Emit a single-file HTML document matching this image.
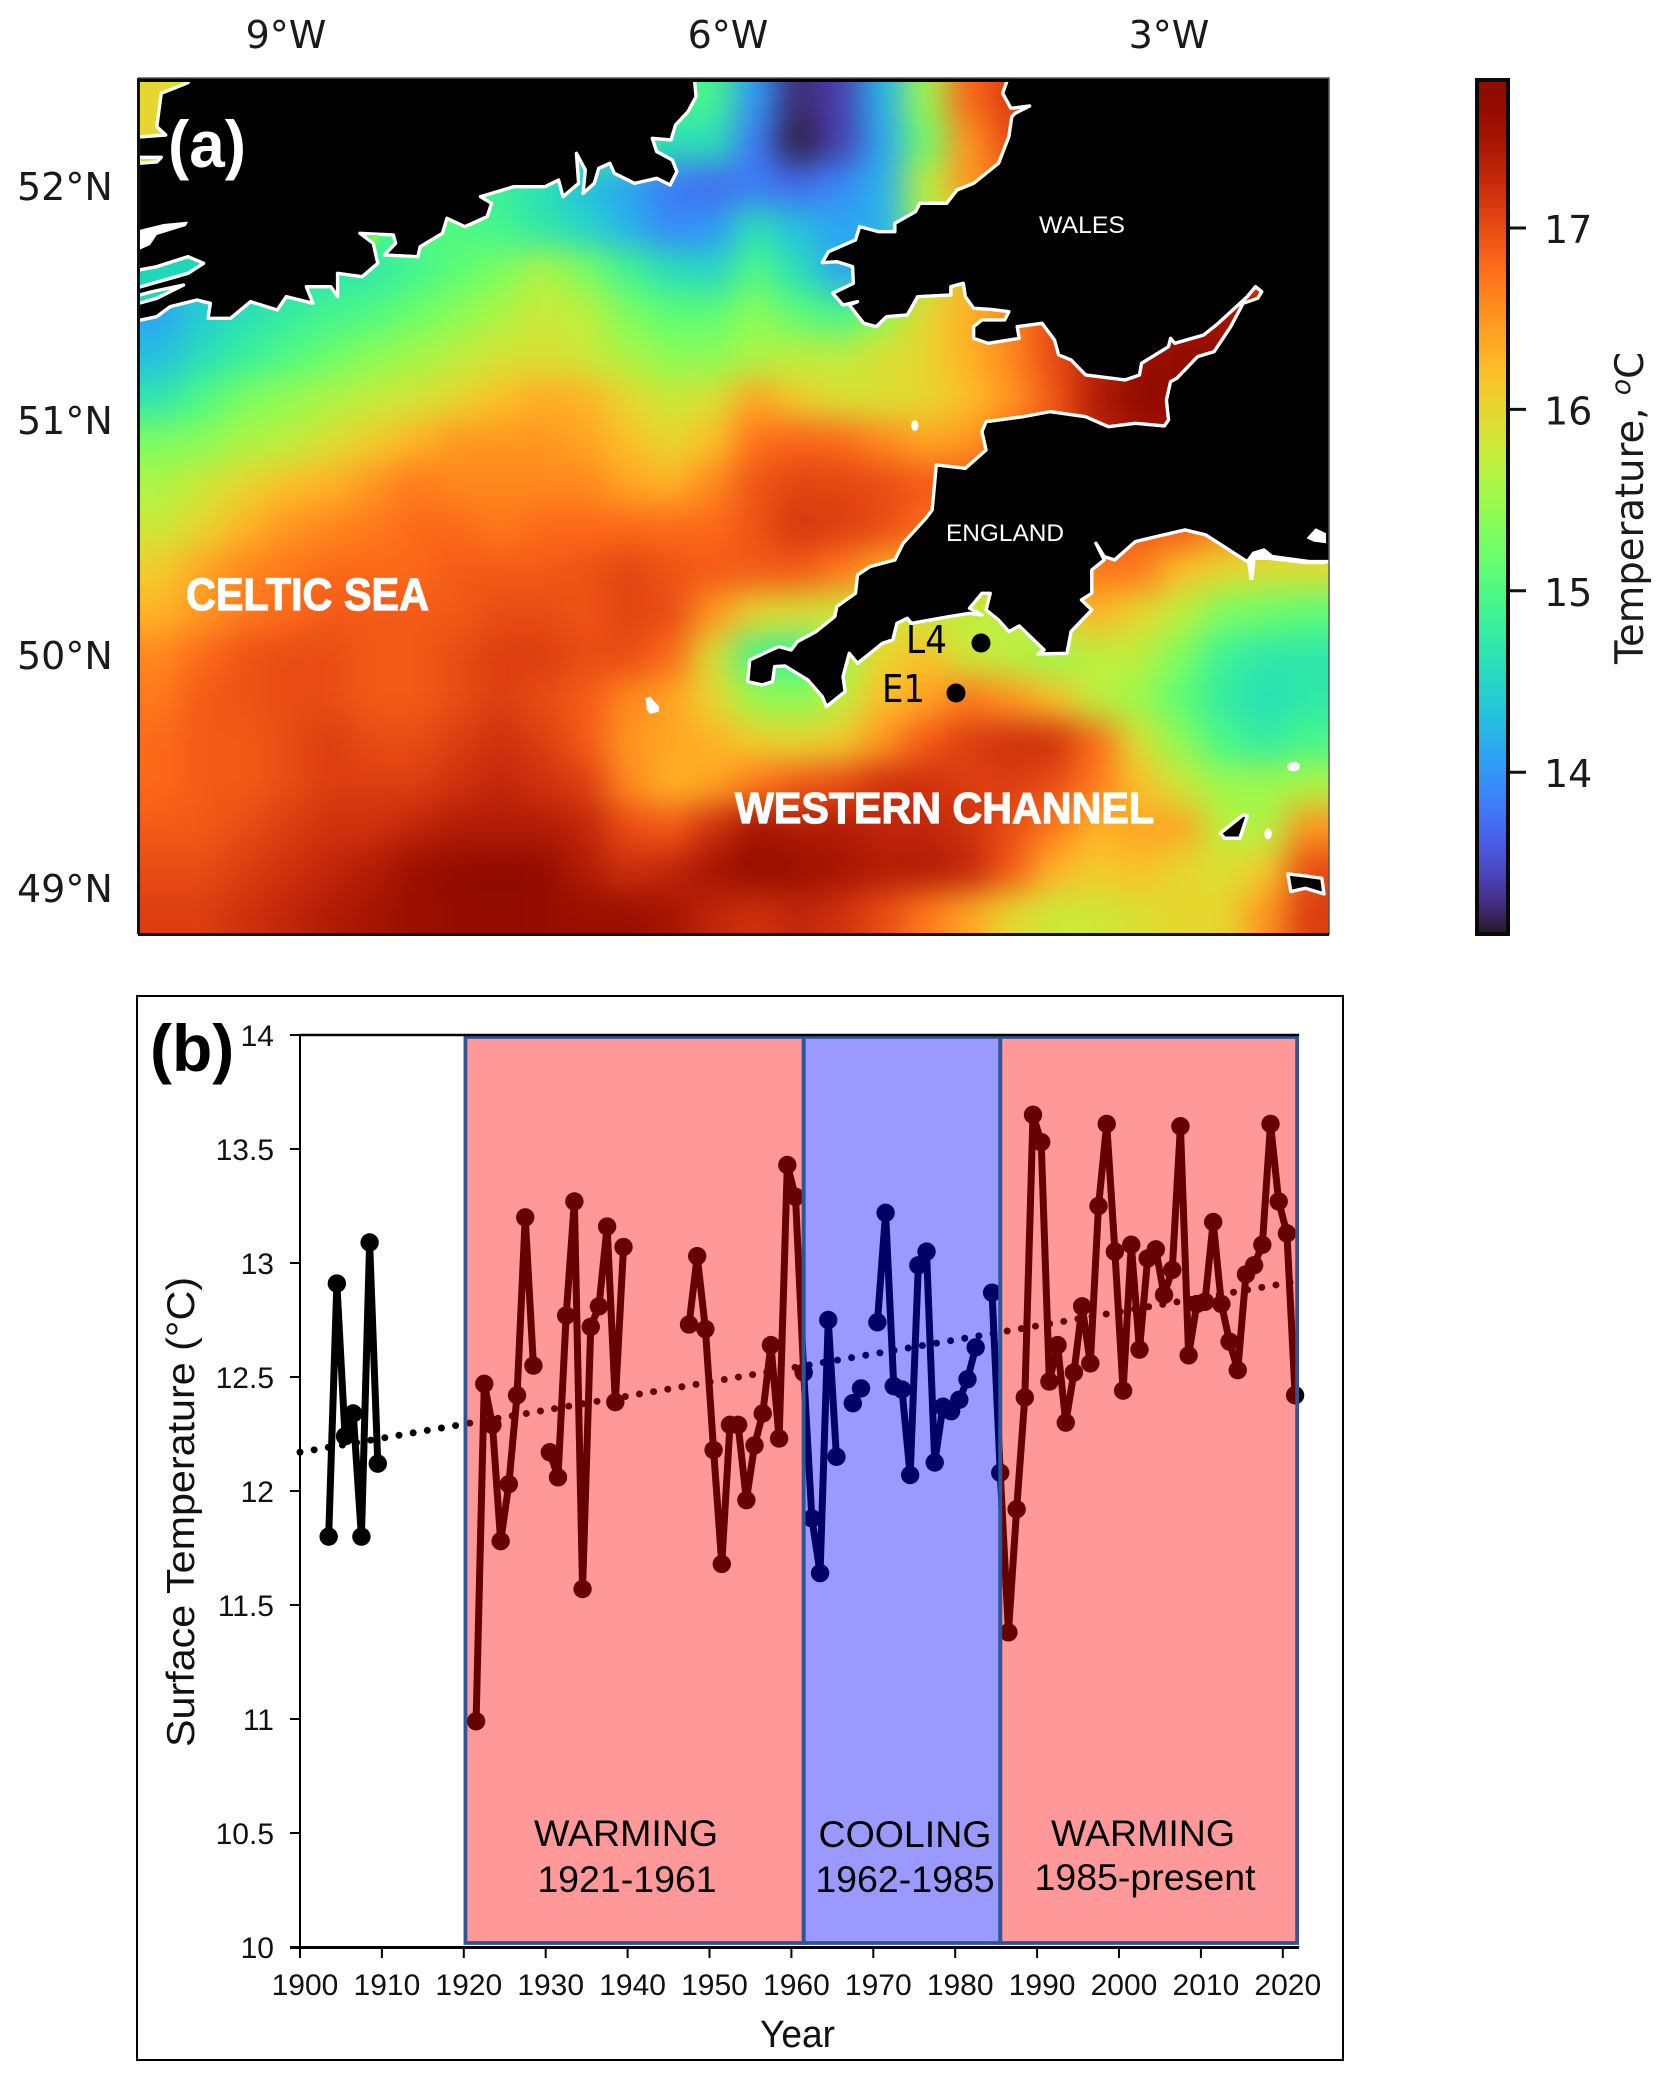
<!DOCTYPE html>
<html lang="en">
<head>
<meta charset="utf-8">
<title>Sea temperature map and time series</title>
<style>
html,body{margin:0;padding:0;background:#fff;width:1669px;height:2080px;overflow:hidden}
svg{display:block;position:absolute;left:0;top:0}
.dj{font-family:"DejaVu Sans",sans-serif}
.ls{font-family:"Liberation Sans",sans-serif}
.coast{stroke:#fff;stroke-width:3.4;stroke-linejoin:round;vector-effect:non-scaling-stroke}
</style>
</head>
<body>
<svg id="fig" xmlns="http://www.w3.org/2000/svg" width="1669" height="2080" viewBox="0 0 1669 2080">
<defs>
<clipPath id="mapClip"><rect x="139" y="78" width="1190" height="856"/></clipPath>
<filter id="smooth" filterUnits="userSpaceOnUse" x="0" y="0" width="1669" height="1100" color-interpolation-filters="sRGB"><feGaussianBlur stdDeviation="16"/></filter>
</defs>

<g>
<g clip-path="url(#mapClip)">
<g id="heat" filter="url(#smooth)"></g>

<g transform="translate(130,70) scale(.4464,.3333)">
<polygon class="coast" fill="#000" points="1265,35 1268,80 1250,125 1222,165 1212,210 1170,205 1180,245 1215,270 1225,305 1210,345 1180,325 1130,340 1085,310 1075,280 1050,295 1040,340 1015,370 1020,300 1000,250 1005,340 970,380 960,330 930,350 860,350 810,370 785,380 810,400 800,440 750,470 710,445 700,490 650,530 645,560 570,555 595,520 590,495 515,490 545,520 555,580 520,620 465,610 465,680 450,650 395,650 410,700 350,680 330,720 270,695 225,745 175,745 180,700 150,690 90,710 60,740 25,750 -20,755 -20,205 30,200 80,195 60,170 70,70 130,38 130,-40 1265,-40"/>
<polygon class="coast" fill="#1fd8b8" points="-20,610 60,590 130,560 165,580 130,610 25,650 -20,670"/>
<polygon class="coast" fill="#1fd8b8" points="-20,690 50,665 120,645 60,685 -20,715"/>
<polygon fill="#fff" points="20,480 75,462 130,455 125,468 60,495 45,525 20,540"/>
<polygon class="coast" fill="#b6f532" points="20,262 70,262 60,276 20,280"/>
<polygon fill="#7cf554" points="535,495 555,495 560,520 548,518"/>
<polygon fill="#1fd8b8" points="1190,222 1210,235 1200,250"/>
</g>

<g transform="translate(700,70) scale(.4146,.3333)">
<polygon class="coast" fill="#000" points="740,35 730,70 750,115 795,108 760,130 752,140 745,200 720,280 660,340 620,360 595,400 530,400 520,425 470,460 470,485 430,485 385,470 375,510 310,545 295,578 330,575 368,590 370,640 320,670 345,705 380,695 360,705 395,760 425,770 450,740 500,735 525,680 605,675 605,650 635,640 640,680 660,715 700,718 745,725 735,750 680,750 660,770 660,805 695,820 770,805 765,770 825,760 855,810 865,855 895,870 930,915 1025,930 1060,915 1065,880 1130,830 1135,805 1145,820 1215,795 1250,760 1320,680 1340,650 1355,665 1345,685 1310,700 1280,770 1240,845 1200,860 1150,925 1135,935 1125,990 1130,1050 1120,1068 1050,1060 985,1070 930,1040 845,1025 780,1040 690,1055 680,1085 690,1140 640,1195 570,1185 560,1320 545,1345 490,1420 470,1470 410,1490 380,1515 375,1570 330,1610 325,1640 280,1685 235,1715 220,1740 190,1730 120,1770 115,1835 150,1845 175,1835 180,1790 205,1788 260,1830 295,1880 305,1910 350,1865 345,1820 360,1750 380,1780 440,1720 465,1710 475,1660 500,1645 510,1660 600,1640 650,1630 680,1635 650,1615 680,1570 700,1570 690,1620 720,1650 745,1685 770,1668 830,1740 815,1752 885,1750 895,1685 945,1620 920,1590 945,1570 945,1500 975,1470 955,1420 975,1460 1000,1470 1050,1415 1100,1400 1170,1380 1220,1395 1320,1475 1335,1450 1360,1440 1380,1460 1470,1475 1508,1475 1600,1475 1600,-40 740,-40"/>
<polygon fill="#fff" points="1463,1405 1485,1375 1510,1390 1510,1420 1480,1415"/>
<polygon fill="#fff" points="1335,1450 1360,1440 1380,1460 1470,1475 1508,1475 1508,1483 1460,1483 1370,1470 1340,1470 1335,1530 1325,1530 1320,1480"/>
<ellipse cx="518" cy="1067" rx="9" ry="16" fill="#fff"/>
<ellipse cx="1432" cy="2090" rx="16" ry="14" fill="#fff" transform="rotate(-20 1432 2090)"/>
<polygon class="coast" fill="#000" points="1255,2290 1310,2235 1320,2238 1302,2305 1265,2305"/>
<ellipse cx="1370" cy="2292" rx="9" ry="16" fill="#fff"/>
<polygon class="coast" fill="#000" points="1418,2412 1460,2418 1500,2425 1505,2472 1460,2455 1425,2465"/>
</g>

<g transform="translate(130,500) scale(.4464,.3333)">
<polygon fill="#fff" points="1155,595 1165,590 1185,620 1185,635 1165,642 1158,630"/>
</g>

<rect x="139" y="78" width="1190" height="4" fill="#000"/>
<text x="168" y="167" textLength="78" lengthAdjust="spacingAndGlyphs" class="ls" font-size="66" font-weight="700" fill="#fff">(a)</text>
<text x="1039" y="233" textLength="86" lengthAdjust="spacingAndGlyphs" class="ls" font-size="24" fill="#fff">WALES</text>
<text x="946" y="541" textLength="118" lengthAdjust="spacingAndGlyphs" class="ls" font-size="24" fill="#fff">ENGLAND</text>
<text x="186" y="610" textLength="243" lengthAdjust="spacingAndGlyphs" class="ls" font-size="45" font-weight="700" fill="#fff" stroke="#fff" stroke-width="1.2">CELTIC SEA</text>
<text x="735" y="823" textLength="419" lengthAdjust="spacingAndGlyphs" class="ls" font-size="44" font-weight="700" fill="#fff" stroke="#fff" stroke-width="1.2">WESTERN CHANNEL</text>
<text x="906" y="653" textLength="41" lengthAdjust="spacingAndGlyphs" class="dj" font-size="38" fill="#000">L4</text>
<text x="882" y="702" textLength="43" lengthAdjust="spacingAndGlyphs" class="dj" font-size="38" fill="#000">E1</text>
<circle cx="981" cy="643" r="9.5" fill="#000"/>
<circle cx="956" cy="693" r="9.5" fill="#000"/>
</g>
<rect x="139" y="78" width="1190" height="856" fill="none" stroke="#555" stroke-width="1.5"/>
<line x1="138" y1="934.5" x2="1329" y2="934.5" stroke="#111" stroke-width="3"/>
<line x1="138.5" y1="78" x2="138.5" y2="934" stroke="#111" stroke-width="3"/>
<g class="dj" fill="#1a1a1a">
<text x="286" y="48" font-size="38" text-anchor="middle">9°W</text>
<text x="728" y="48" font-size="38" text-anchor="middle">6°W</text>
<text x="1169" y="48" font-size="38" text-anchor="middle">3°W</text>
<text x="17" y="200" font-size="38">52°N</text>
<text x="17" y="434" font-size="38">51°N</text>
<text x="17" y="669" font-size="38">50°N</text>
<text x="17" y="902" font-size="38">49°N</text>
</g>
</g>

<g id="cbar"></g>
<text transform="translate(1643,664) rotate(-90)" textLength="312" lengthAdjust="spacingAndGlyphs" class="dj" font-size="39" fill="#1a1a1a">Temperature, <tspan font-style="italic" font-size="27" dy="-13">o</tspan><tspan dy="13">C</tspan></text>

<g>
<rect x="137" y="996" width="1206" height="1064" fill="#fff" stroke="#000" stroke-width="2"/>
<g id="series"></g>
<g id="bands"></g>
<g id="axes"></g>
<text x="150" y="1071" class="ls" font-size="66" font-weight="700" fill="#000">(b)</text>
<text transform="translate(194,1747) rotate(-90)" textLength="470" lengthAdjust="spacingAndGlyphs" class="ls" font-size="39" fill="#111">Surface Temperature  (°C)</text>
<text x="760" y="2047" textLength="75" lengthAdjust="spacingAndGlyphs" class="ls" font-size="38" fill="#111">Year</text>
<g class="ls" font-size="37.5" fill="#000" text-anchor="middle">
<text x="626" y="1846">WARMING</text>
<text x="627" y="1892">1921-1961</text>
<text x="905" y="1847">COOLING</text>
<text x="905" y="1892">1962-1985</text>
<text x="1143" y="1846">WARMING</text>
<text x="1145" y="1890">1985-present</text>
</g>
</g>
</svg>

<script>
/* ---- heatmap data: sea temperature (deg C), rows north to south, columns west to east ---- */
const sstRow00 = [16,15.8,15.5,15,15,15,15,15,15,15,15,15,15,14.9,14.0,13.25,13.4,14.2,15.5,16.8,17.1,17,17,17,17,17,17,17];
const sstRow01 = [16,15.8,15,15,15,15,15,15,15,15,15,15,14.6,14.6,13.8,13.15,13.4,14.1,15.2,16.5,17,17,17,17,17,17,17,17];
const sstRow02 = [15,15,15,15,15,15,15,15,14.8,14.6,14.3,14.1,13.8,13.7,13.8,13.7,13.9,14.2,15.7,16.5,16.8,17,17,17,17,17,17,17];
const sstRow03 = [15,15,15,15,15,15,15,15,14.9,14.7,14.5,14.2,13.9,14,14.6,14.3,14.1,14.2,15.5,16,16.5,17,17,17,17,17,17,17];
const sstRow04 = [14.5,14.5,14.5,14.6,14.7,14.7,14.9,15.1,15.3,15.6,15.3,14.9,14.6,14.5,15,14.6,14.1,14.1,15.5,16.3,16.5,17,17,17,17,17,17,17];
const sstRow05 = [14.1,14.4,14.6,14.75,14.9,15,15.2,15.4,15.6,15.8,15.7,15.3,15.1,15.1,15.4,15.1,14.9,15.4,16,16.3,16.6,17,17.2,17.4,17.5,17.5,17.5,17.5];
const sstRow06 = [14.3,14.6,14.8,15,15.2,15.4,15.55,15.7,15.85,15.9,15.8,15.6,15.4,15.4,15.6,15.7,15.7,15.9,16,16.3,16.6,17,17.3,17.6,17.7,17.7,17.7,17.7];
const sstRow07 = [14.7,15,15.3,15.45,15.6,15.75,15.85,16,16.2,16.35,16.3,16,15.8,15.9,16.4,16.1,15.9,15.9,16,16.2,16.5,16.9,17.4,17.8,17.8,17.6,17.6,17.6];
const sstRow08 = [15.3,15.4,15.6,15.7,15.9,16.1,16.3,16.5,16.5,16.5,16.4,16.2,16,16.2,16.75,16.85,16.8,16.6,16.4,16.5,16.8,17,17.3,17.5,17.5,17,17,17];
const sstRow09 = [15.6,15.8,16,16.2,16.3,16.5,16.7,16.6,16.6,16.6,16.6,16.4,16.3,16.6,16.95,17.05,17.05,17,16.9,16.9,16.9,16.9,16.9,16.9,16.9,16.7,16.5,16.3];
const sstRow10 = [15.8,16,16.3,16.5,16.6,16.7,16.8,16.8,16.7,16.8,16.8,16.8,16.8,16.8,16.95,17.15,17.1,17,16.8,16.7,16.7,16.8,16.9,16.9,16.9,16.6,16.3,16.1];
const sstRow11 = [16.1,16.4,16.6,16.7,16.8,16.8,16.8,16.9,16.9,16.9,16.95,17.05,16.95,16.9,16.9,16.9,16.7,16.4,16.2,16.2,16.3,16.5,16.7,16.7,16.2,16,15.9,15.9];
const sstRow12 = [16.3,16.5,16.7,16.8,16.9,16.9,16.9,16.9,17,17,16.95,17.05,17,16.5,16,15.9,15.8,15.8,15.8,15.7,15.7,15.9,16.3,16,15.7,15.3,15.2,15.1];
const sstRow13 = [16.6,16.8,16.95,17,17,16.9,16.9,17,17.1,17.1,17,17,16.8,15.9,14.9,14.8,15.5,16,16.2,15.8,15.7,15.5,15.7,15.7,15.3,14.85,14.7,14.7];
const sstRow14 = [16.7,16.9,16.95,17,17,16.9,16.9,17,17.1,17,16.9,16.6,16.4,16,15.5,15.4,15.7,16.2,16.4,16.7,16.5,16.2,15.7,15.5,15.1,14.75,14.6,14.7];
const sstRow15 = [16.8,16.9,16.9,17,17.1,17,17,17.1,17.2,17.1,16.9,16.5,16.4,16.3,16.1,16,16.1,16.5,16.9,17.1,17.2,17.2,16.8,15.9,15.4,14.95,14.75,14.95];
const sstRow16 = [16.8,16.9,16.9,17,17.1,17.1,17.1,17.2,17.3,17.2,17.1,16.6,16.3,16.4,16.7,16.9,17,17.2,17.2,17.1,17.1,17,16.7,16.2,15.8,15.5,15.5,15.6];
const sstRow17 = [16.9,16.9,17,17.1,17.2,17.2,17.3,17.4,17.4,17.4,17.3,17,16.9,17.2,17.5,17.4,17.4,17.3,17.3,17.2,17,16.7,16.3,16.4,16.4,15.7,15.6,16.5];
const sstRow18 = [17,17,17.1,17.2,17.3,17.4,17.6,17.7,17.75,17.7,17.4,17.2,17.3,17.5,17.7,17.6,17.5,17.4,17.4,17.3,16.9,16.3,16.1,16.2,16,15.9,16.1,17];
const sstRow19 = [17.1,17.1,17.2,17.3,17.4,17.5,17.6,17.65,17.7,17.65,17.6,17.6,17.5,17.3,17.2,17.3,17.2,17,16.7,16.4,16,15.8,15.8,15.9,16,16,16.5,17.1];
const sstRows = [sstRow00,sstRow01,sstRow02,sstRow03,sstRow04,sstRow05,sstRow06,sstRow07,sstRow08,sstRow09,sstRow10,sstRow11,sstRow12,sstRow13,sstRow14,sstRow15,sstRow16,sstRow17,sstRow18,sstRow19];
const colorbarTicks = [14,15,16,17];

/* ---- time series data ---- */
const years = [1903,1904,1905,1906,1907,1908,1909,1910,1921,1922,1923,1924,1925,1926,1927,1928,1929,1930,1931,1932,1933,1934,1935,1936,1937,1938,1939,1940,1947,1948,1949,1950,1951,1952,1953,1954,1955,1956,1957,1958,1959,1960,1961,1962,1963,1964,1965,1966,1967,1968,1969,1970,1971,1972,1973,1974,1975,1976,1977,1978,1979,1980,1981,1982,1983,1984,1985,1986,1987,1988,1989,1990,1991,1992,1993,1994,1995,1996,1997,1998,1999,2000,2001,2002,2003,2004,2005,2006,2007,2008,2009,2010,2011,2012,2013,2014,2015,2016,2017,2018,2019,2020,2021];
const temps = [11.8,12.91,12.24,12.34,11.8,13.09,12.12,null,10.99,12.47,12.29,11.78,12.03,12.42,13.2,12.55,null,12.17,12.06,12.77,13.27,11.57,12.72,12.81,13.16,12.39,13.07,null,12.73,13.03,12.71,12.18,11.68,12.29,12.29,11.96,12.2,12.34,12.64,12.23,13.43,13.29,12.52,11.88,11.64,12.75,12.15,null,12.385,12.45,null,12.74,13.22,12.46,12.445,12.07,12.99,13.05,12.125,12.37,12.35,12.4,12.49,12.63,null,12.87,12.08,11.38,11.92,12.41,13.65,13.53,12.48,12.64,12.3,12.52,12.81,12.56,13.25,13.61,13.05,12.44,13.08,12.62,13.02,13.06,12.86,12.97,13.6,12.595,12.82,12.83,13.18,12.82,12.655,12.53,12.95,12.99,13.08,13.61,13.27,13.13,12.42];
const trendYears = [1900,2021.8];
const trendTemps = [12.17,12.92];
const bandEdges = [1920.2,1961.5,1985.5,2021.75];
const bandKinds = ['warming','cooling','warming'];
const yTicks = [10,10.5,11,11.5,12,12.5,13,13.5,14];
const xTicks = [1900,1910,1920,1930,1940,1950,1960,1970,1980,1990,2000,2010,2020];

const NS = 'http://www.w3.org/2000/svg';
function mk(tag, attrs, parent){
  const e = document.createElementNS(NS, tag);
  for (const k in attrs) e.setAttribute(k, attrs[k]);
  parent.appendChild(e);
  return e;
}
function turbo(t){
  t = Math.max(0, Math.min(1, t));
  const r = 0.13572138+t*(4.61539260+t*(-42.66032258+t*(132.13108234+t*(-152.94239396+t*59.28637943))));
  const g = 0.09140261+t*(2.19418839+t*(4.84296658+t*(-14.18503333+t*(4.27729857+t*2.82956604))));
  const b = 0.10667330+t*(12.64194608+t*(-60.58204836+t*(110.36276771+t*(-89.90310912+t*27.34824973))));
  const c = v => Math.round(255*Math.max(0, Math.min(1, v)));
  return 'rgb(' + c(r) + ',' + c(g) + ',' + c(b) + ')';
}
const tMin = 13.1, tMax = 17.83;
const colorOf = v => turbo((v - tMin) / (tMax - tMin));

/* heatmap */
const MAP = {l:139, t:78, w:1190, h:856};
const heat = document.getElementById('heat');
const nRows = sstRows.length, nCols = sstRows[0].length;
const cw = MAP.w / nCols, ch = MAP.h / nRows, pad = 90;
sstRows.forEach((row, j) => {
  row.forEach((val, i) => {
    const x0 = MAP.l + i*cw - (i === 0 ? pad : 0);
    const x1 = MAP.l + (i+1)*cw + (i === nCols-1 ? pad : 0);
    const y0 = MAP.t + j*ch - (j === 0 ? pad : 0);
    const y1 = MAP.t + (j+1)*ch + (j === nRows-1 ? pad : 0);
    const cell = mk('rect', {x:x0, y:y0, width:x1-x0+0.6, height:y1-y0+0.6, fill:colorOf(val)}, heat);
    
    
  });
});

/* colorbar */
const CB = {x:1477, w:31, top:80, bottom:934};
const cbar = document.getElementById('cbar');
const cbY = v => 228 + (17 - v) * 181.4;
for (let y = CB.top; y < CB.bottom; y += 2) {
  const v = 17 - (y + 1 - 228) / 181.4;
  const strip = mk('rect', {x:CB.x, y:y, width:CB.w, height:2.4, fill:colorOf(v)}, cbar);
  
  
}
const cbFrame = mk('rect', {x:CB.x, y:CB.top, width:CB.w, height:CB.bottom-CB.top, fill:'none', stroke:'#0a0a0a', 'stroke-width':4}, cbar);


colorbarTicks.forEach(v => {
  const tick = mk('line', {x1:CB.x+CB.w, x2:1526, y1:cbY(v), y2:cbY(v), stroke:'#111', 'stroke-width':3}, cbar);
  
  
  const lab = mk('text', {x:1544, y:cbY(v)+15, 'font-size':38, fill:'#1a1a1a', class:'dj'}, cbar);
  
  
  lab.textContent = v;
});

/* axis functions */
const xScale = yr => 300 + (yr - 1900) * 8.19;
const xPoint = yr => xScale(yr + 0.5);
const yScale = v => 1947 - (v - 10) * 228;

/* series: drawn in black, then tinted by the translucent bands above it */
const series = document.getElementById('series');
const trend = mk('line', {x1:xScale(trendYears[0]), y1:yScale(trendTemps[0]), x2:xScale(trendYears[1]), y2:yScale(trendTemps[1]), stroke:'#000', 'stroke-width':7, 'stroke-linecap':'round', 'stroke-dasharray':'0 14.35'}, series);


let seg = [];
function flush(){
  if (seg.length > 1) {
    const pl = mk('polyline', {points:seg.join(' '), fill:'none', stroke:'#000', 'stroke-width':7, 'stroke-linejoin':'round'}, series);
    
    
  }
  seg = [];
}
years.forEach((yr, i) => {
  if (temps[i] === null) { flush(); return; }
  seg.push(xPoint(yr) + ',' + yScale(temps[i]));
});
flush();
years.forEach((yr, i) => {
  if (temps[i] === null) return;
  const pt = mk('circle', {cx:xPoint(yr), cy:yScale(temps[i]), r:9.2, fill:'#000'}, series);
  
  
});

/* bands */
const bands = document.getElementById('bands');
bandKinds.forEach((kind, i) => {
  const x0 = xScale(bandEdges[i]), x1 = xScale(bandEdges[i+1]);
  const fill = kind === 'warming' ? 'rgba(255,0,0,0.4)' : 'rgba(0,0,255,0.4)';
  const b = mk('rect', {x:x0, y:1037, width:x1-x0, height:906, fill:fill}, bands);
  
  
});
bandKinds.forEach((kind, i) => {
  const x0 = xScale(bandEdges[i]), x1 = xScale(bandEdges[i+1]);
  const o = mk('rect', {x:x0, y:1037, width:x1-x0, height:906, fill:'none', stroke:'#2f5597', 'stroke-width':3.8}, bands);
  
  
});

/* axes */
const axes = document.getElementById('axes');
const left = mk('line', {x1:300, x2:300, y1:1035, y2:1948, stroke:'#000', 'stroke-width':2}, axes);


const bottom = mk('line', {x1:290, x2:xScale(bandEdges[3])+2, y1:1947.5, y2:1947.5, stroke:'#000', 'stroke-width':3}, axes);


const topLine = mk('line', {x1:300, x2:xScale(bandEdges[3])+2, y1:1035, y2:1035, stroke:'#000', 'stroke-width':2.5}, axes);


yTicks.forEach(v => {
  const t = mk('line', {x1:290, x2:300, y1:yScale(v), y2:yScale(v), stroke:'#000', 'stroke-width':2}, axes);
  
  
  const l = mk('text', {x:274, y:yScale(v)+11, 'text-anchor':'end', 'font-size':30, fill:'#111', class:'ls'}, axes);
  
  
  l.textContent = v;
});
xTicks.forEach(yr => {
  const t = mk('line', {x1:xScale(yr), x2:xScale(yr), y1:1947, y2:1958, stroke:'#000', 'stroke-width':2}, axes);
  
  
  const l = mk('text', {x:xScale(yr)+5, y:1995, 'text-anchor':'middle', 'font-size':30, fill:'#111', class:'ls'}, axes);
  
  
  l.textContent = yr;
});
</script>
</body>
</html>
